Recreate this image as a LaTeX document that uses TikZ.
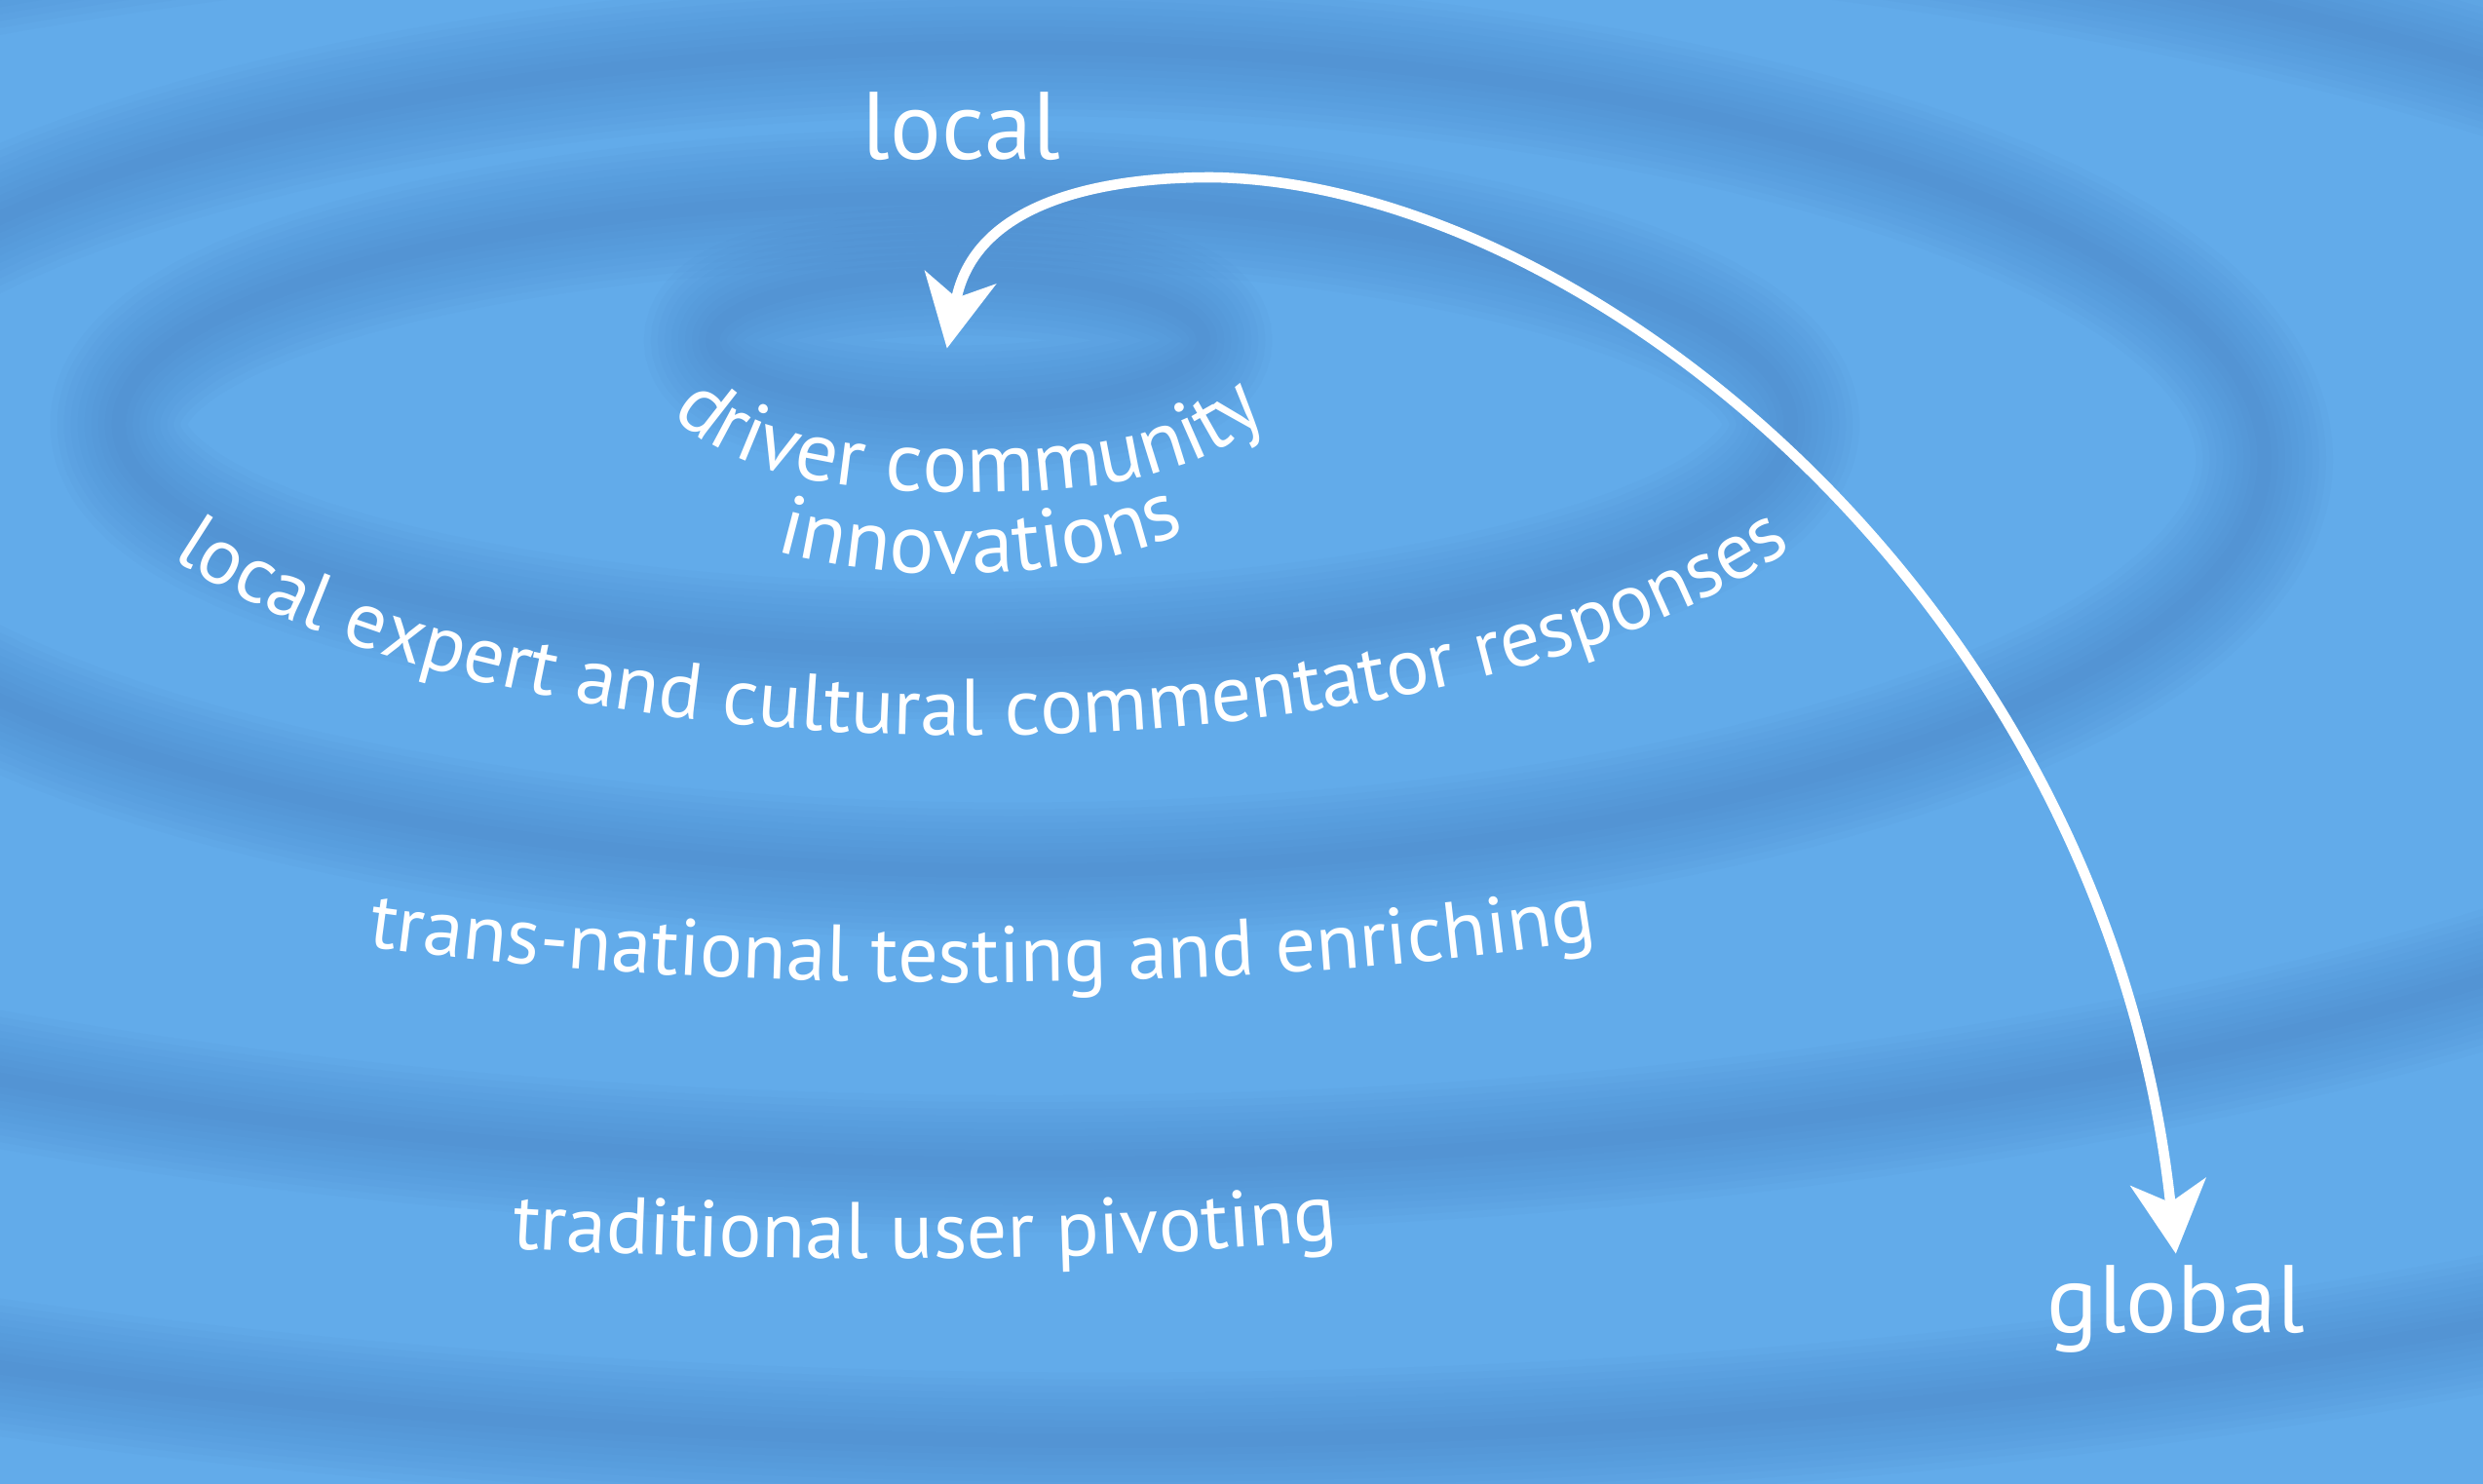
\documentclass[tikz,border=0pt]{standalone}
\usepackage{fontspec}
\setmainfont{PT Sans}
\usetikzlibrary{arrows.meta,decorations.text}

\definecolor{pondblue}{RGB}{98,171,234}
\definecolor{ripple}{RGB}{70,126,192}
\newcommand\ringfont{\fontsize{23.4}{28}\selectfont}
\newcommand\corefont{\fontsize{24.5}{29}\selectfont}

\tikzset{
    lbl/.style={text=white, font=\fontsize{28}{32}\selectfont},
    link/.style={white, line width=3pt,
        {Stealth[length=21pt,width=21pt,inset=6pt]}-{Stealth[length=21pt,width=22pt,inset=6pt]}},
    curved/.style={decorate, decoration={text along path, text align=center,
        text color=white, text={#1}}}
}

\begin{document}
\begin{tikzpicture}[x=0.01625cm, y=-0.01625cm]
    \useasboundingbox (0,0) rectangle (1568,937);
    \fill[pondblue] (0,0) rectangle (1568,937);
    % ripples
    \begin{scope}
        \clip (0,0) rectangle (1568,937);
        \foreach \cx/\cy/\rx/\ry in {605/215/155/42, 603/268/528/143, 640/290/790/260,
                650/330/1311/405, 700/395/1686/515}
            \foreach \w in {4,8,...,40}
                \draw[ripple, opacity=0.055, line width=\w pt] (\cx,\cy) ellipse [x radius=\rx, y radius=\ry];
    \end{scope}

    \node[lbl] (local) at (607,80) {local};
    \node[lbl] (global) at (1374,827) {global};
    \coordinate (core) at (598,220);

    % rings of text
    \path[curved={|\corefont|driver community}] (405,236) .. controls (440,300) and (525,311) .. (612,311) .. controls (699,311) and (784,300) .. (819,236);
    \path[curved={|\corefont|innovations}] (480,345) .. controls (560,371) and (690,369) .. (758,331);
    \path[curved={|\ringfont|local expert and cultural commentator responses}] (92,340) .. controls (310,507) and (930,507) .. (1148,334);
    \path[curved={|\ringfont|trans-national testing and enriching}] (226,597) .. controls (450,629) and (800,629) .. (1014,592);
    \path[curved={|\ringfont|traditional user pivoting}] (318,788) .. controls (480,798) and (700,798) .. (850,782);

    \draw[link] (core) .. controls (615,130) and (690,112) .. (765,112) .. controls (1000,115) and (1330,380) .. (global.north);
\end{tikzpicture}
\end{document}
